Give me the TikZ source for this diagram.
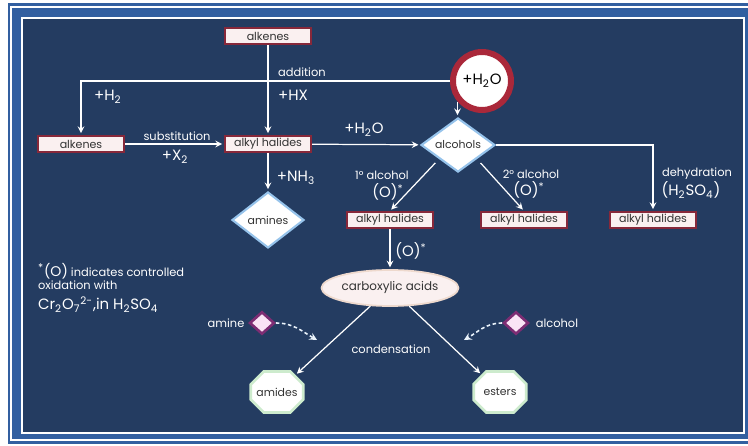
\documentclass[tikz,border=0pt]{standalone}
\usepackage{fontspec}
\setmainfont{Poppins}
\usepackage{xcolor}
\usepackage{tikz}
\usetikzlibrary{shapes.geometric, shapes.misc}

\definecolor{bandblue}{RGB}{50,95,160}
\definecolor{panelblue}{RGB}{36,60,97}
\definecolor{boxred}{RGB}{135,40,58}
\definecolor{boxfill}{RGB}{250,240,240}
\definecolor{ringred}{RGB}{170,40,58}
\definecolor{gemglow}{RGB}{150,195,235}
\definecolor{octglow}{RGB}{205,235,205}
\definecolor{gempurple}{RGB}{125,45,115}
\definecolor{gempink}{RGB}{250,228,245}

\tikzset{
  box/.style={draw=boxred, line width=1.3pt, fill=boxfill, minimum width=1.72cm,
    minimum height=0.32cm, inner sep=0pt, text=black!80, font=\fontsize{6.3}{7}\selectfont},
  gem/.style={diamond, draw=gemglow, line width=1.2pt, fill=white, inner sep=0pt,
    text=black!80, font=\fontsize{6.2}{7}\selectfont},
  gemsmall/.style={diamond, draw=gempurple, line width=1.5pt, fill=gempink,
    minimum width=0.5cm, minimum height=0.45cm, inner sep=0pt},
  water/.style={circle, draw=ringred, line width=3.4pt, fill=white, minimum size=1.16cm,
    inner sep=0pt, text=black, font=\fontsize{8.5}{9}\selectfont},
  acid/.style={ellipse, draw=boxfill!80!brown, line width=1pt, fill=boxfill, minimum width=2.6cm,
    minimum height=0.72cm, inner sep=0pt, text=black!80, font=\fontsize{6.8}{8}\selectfont},
  oct/.style={chamfered rectangle, chamfered rectangle xsep=5pt, chamfered rectangle ysep=5pt,
    draw=octglow, line width=1.5pt, fill=white, minimum width=1.05cm, minimum height=0.82cm,
    inner sep=0pt, text=black!80, font=\fontsize{6.2}{7}\selectfont},
  lbl/.style={text=white, inner sep=1pt, font=\fontsize{6.5}{7}\selectfont},
  lblbig/.style={text=white, inner sep=1pt, font=\fontsize{8.5}{9}\selectfont},
  link/.style={->, white, line width=0.7pt, shorten >=1pt},
  hint/.style={->, white!80!gemglow, line width=0.9pt, dashed, dash pattern=on 2pt off 1.5pt}
}

\begin{document}
\begin{tikzpicture}[x=0.02cm, y=0.02cm, >=stealth]
% Fixing the page size:
\useasboundingbox (0,0) rectangle (748,446);

% Drawing the blue frame with its two white lines:
\fill[white] (0,0) rectangle (748,446);
\fill[bandblue] (8,2) rectangle (748,443);
\draw[white, line width=0.8pt] (748,439) -- (11,439) -- (11,6) -- (748,6);
\fill[panelblue] (22,13) rectangle (744,428);
\draw[white, line width=0.8pt] (22,13) rectangle (744,428);

% Drawing the compounds:
\node[box] (alkTop) at (268,410) {alkenes};
\node[box] (alkL) at (81,302) {alkenes};
\node[box] (ah) at (268,302) {alkyl halides};
\node[water] (water) at (482,365) {+H\textsubscript{2}O};
\node[gem, minimum width=1.48cm, minimum height=0.92cm] (alc) at (458,301) {alcohols};
\node[gem, minimum width=1.44cm, minimum height=1.12cm] (amn) at (268,226) {amines};
\node[box] (ahA) at (390,226) {alkyl halides};
\node[box] (ahB) at (524,226) {alkyl halides};
\node[box] (ahC) at (653,226) {alkyl halides};
\node[acid] (acid) at (390,158) {carboxylic acids};
\node[gemsmall] (amineD) at (262,123) {};
\node[gemsmall] (alcD) at (516,123) {};
\node[oct] (amides) at (277,54) {amides};
\node[oct] (esters) at (500,54) {esters};

% Drawing the reactions:
\draw[link] (alkTop) -- (ah);
\draw[link] (water.west) -| (alkL);
\draw[link] (water.220) -- (water.220 |- alc.north);
\draw[link] (alkL) -- (ah);
\draw[link] (ah) -- (alc);
\draw[link] (ah) -- (amn);
\draw[link] (alc) -| (ahC);
\draw[link, shorten <=3pt] (alc.south west) -- (ahA.north);
\draw[link, shorten <=3pt] (alc.south east) -- (ahB.north);
\draw[link] (ahA) -- (acid);
\draw[link] (acid) -- (amides);
\draw[link] (acid) -- (esters);

% Dashed arrows for the condensation partners:
\coordinate (ampEnd) at (317,106);
\coordinate (alcEnd) at (464,106);
\draw[hint] (amineD) to[out=0, in=150] (ampEnd);
\draw[hint] (alcD) to[out=180, in=30] (alcEnd);

% Adding the reagents:
\node[lbl, anchor=west] (addLbl) at (276,374) {addition};
\node[lblbig, anchor=west] (hxLbl) at (276,351) {+HX};
\node[lblbig, anchor=west] (h2Lbl) at (92,349) {+H\textsubscript{2}};
\node[lbl] (subLbl) at (177,310) {substitution};
\node[lblbig] (x2Lbl) at (175,289) {+X\textsubscript{2}};
\node[lblbig] (h2oLbl) at (364,316) {+H\textsubscript{2}O};
\node[lblbig] (nh3Lbl) at (296,268) {+NH\textsubscript{3}};
\node[lbl] (oneLbl) at (382,271) {1° alcohol};
\node[lblbig] (oxA) at (388,254) {(O)\textsuperscript{*}};
\node[lbl] (twoLbl) at (531,272) {2° alcohol};
\node[lblbig] (oxB) at (529,256) {(O)\textsuperscript{*}};
\node[lbl] (dehLbl) at (697,272) {dehydration};
\node[lblbig] (sulfLbl) at (691,256) {(H\textsubscript{2}SO\textsubscript{4})};
\node[lblbig] (oxC) at (411,195) {(O)\textsuperscript{*}};
\node[lbl] (condLbl) at (391,97) {condensation};
\node[lbl] (amineLbl) at (226,123) {amine};
\node[lbl] (alcLbl) at (557,123) {alcohol};

% Adding the note on (O):
\node[lbl, anchor=west] (noteA) at (36,175) {{\fontsize{8}{9}\selectfont\textsuperscript{*}(O)} indicates controlled};
\node[lbl, anchor=west] (noteB) at (36,161) {oxidation with};
\node[lblbig, anchor=west] (noteC) at (36,141) {Cr\textsubscript{2}O\textsubscript{7}\textsuperscript{2-},in H\textsubscript{2}SO\textsubscript{4}};
\end{tikzpicture}
\end{document}
